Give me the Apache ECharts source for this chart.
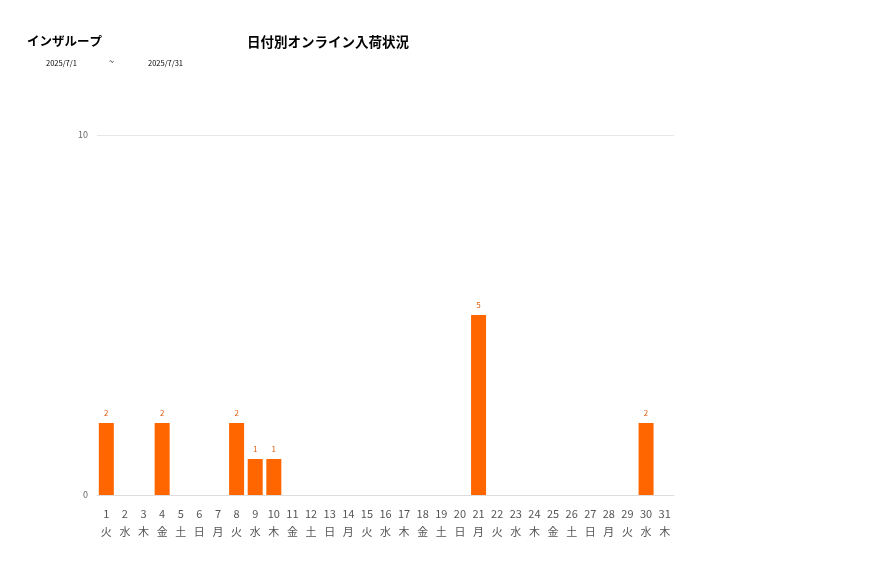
<!DOCTYPE html>
<html>
<head>
<meta charset="utf-8">
<script src="https://cdn.jsdelivr.net/npm/echarts@6/dist/echarts.min.js"></script>
<style>
  html, body { margin: 0; padding: 0; background: #fff; }
  #chart { width: 877px; height: 578px; }
</style>
</head>
<body>
<div id="chart"></div>
<script>
// July 2025 daily arrivals
const days = [];
for (let d = 1; d <= 31; d++) days.push(String(d));
const weekdays = ["火", "水", "木", "金", "土", "日", "月",
  "火", "水", "木", "金", "土", "日", "月",
  "火", "水", "木", "金", "土", "日", "月",
  "火", "水", "木", "金", "土", "日", "月",
  "火", "水", "木"];
const counts = [2, 0, 0, 2, 0, 0, 0, 2, 1, 1, 0, 0, 0, 0, 0, 0, 0, 0, 0, 0,
  5, 0, 0, 0, 0, 0, 0, 0, 0, 2, 0];

const font = '"Noto Sans CJK JP", "Noto Sans", sans-serif';
const chart = echarts.init(document.getElementById("chart"));

chart.setOption({
  textStyle: { fontFamily: font },
  title: [
    {
      text: "インザループ",
      left: 27, top: 35, padding: 0,
      textStyle: { fontSize: 12.5, fontWeight: "bold", color: "#000", fontFamily: font },
    },
    {
      text: "日付別オンライン入荷状況",
      left: 247, top: 35, padding: 0,
      textStyle: { fontSize: 13.5, fontWeight: "bold", color: "#000", fontFamily: font },
    },
    { text: "2025/7/1", left: 46, top: 59, padding: 0, textStyle: { fontSize: 7.5, fontWeight: "normal", color: "#000" } },
    { text: "~", left: 109, top: 57, padding: 0, textStyle: { fontSize: 9, fontWeight: "normal", color: "#000" } },
    { text: "2025/7/31", left: 148, top: 59, padding: 0, textStyle: { fontSize: 7.5, fontWeight: "normal", color: "#000" } },
  ],
  grid: { left: 97, right: 203, top: 135, bottom: 83 },
  xAxis: {
    type: "category",
    data: days.map((d, i) => d + "\n" + weekdays[i]),
    axisTick: { show: false },
    axisLine: { lineStyle: { color: "#ddd" } },
    axisLabel: {
      interval: 0,
      color: "#555",
      fontSize: 11,
      lineHeight: 18,
      margin: 10,
    },
  },
  yAxis: {
    type: "value",
    min: 0, max: 10, interval: 10,
    axisLabel: { color: "#666", fontSize: 9, margin: 9 },
    splitLine: { lineStyle: { color: "#e6e6e6" } },
  },
  series: [
    {
      type: "bar",
      data: counts,
      barWidth: 15,
      itemStyle: { color: "#FF6600" },
      label: {
        show: true,
        position: "top",
        color: "#E06010",
        fontSize: 8,
        distance: 6,
        formatter: (p) => (p.value ? p.value : ""),
      },
    },
  ],
});
</script>
</body>
</html>
